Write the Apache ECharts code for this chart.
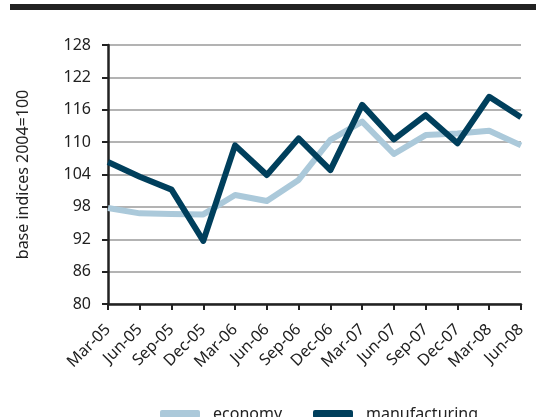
<!DOCTYPE html>
<html>
<head>
<meta charset="utf-8">
<script src="https://cdn.jsdelivr.net/npm/echarts@6/dist/echarts.min.js"></script>
<style>
  html, body { margin: 0; padding: 0; background: #fff; }
  #chart { width: 536px; height: 417px; }
</style>
</head>
<body>
<div id="chart"></div>
<script>
const quarters = ['Mar-05', 'Jun-05', 'Sep-05', 'Dec-05', 'Mar-06', 'Jun-06', 'Sep-06', 'Dec-06',
  'Mar-07', 'Jun-07', 'Sep-07', 'Dec-07', 'Mar-08', 'Jun-08']
const economy = [97.8, 96.8, 96.7, 96.6, 100.2, 99.1, 103.0, 110.4, 113.8, 107.8, 111.3, 111.6, 112.1, 109.4]
const manufacturing = [106.3, 103.6, 101.2, 91.7, 109.4, 103.9, 110.7, 104.8, 116.9, 110.5, 115.0, 109.8, 118.4, 114.6]
const yTicks = [80, 86, 92, 98, 104, 110, 116, 122, 128]

const font = 'Noto Sans, sans-serif'
const chart = echarts.init(document.getElementById('chart'))

const legendText = { fontFamily: font, fontSize: 16, color: '#222', padding: [0, 0, 0, 8] }

chart.setOption({
  backgroundColor: '#fff',
  animation: false,
  graphic: [
    { type: 'rect', shape: { x: 10, y: 4, width: 526, height: 6 }, style: { fill: '#222' } }
  ],
  grid: { left: 108, right: 15, top: 45, bottom: 113 },
  // two legends so each entry sits where the original has it
  legend: [
    {
      top: 401, left: 155, itemWidth: 40, itemHeight: 8, icon: 'roundRect',
      textStyle: legendText, data: ['economy']
    },
    {
      top: 401, left: 308, itemWidth: 40, itemHeight: 8, icon: 'roundRect',
      textStyle: legendText, data: ['manufacturing']
    }
  ],
  xAxis: {
    type: 'category',
    data: quarters,
    boundaryGap: false,
    axisLine: { lineStyle: { color: '#222', width: 2.5 } },
    axisTick: { show: true, length: 6, inside: false, lineStyle: { color: '#222', width: 2 } },
    axisLabel: { rotate: 45, interval: 0, margin: 23, fontFamily: font, fontSize: 16, color: '#222' },
    splitLine: { show: false }
  },
  yAxis: {
    type: 'value',
    min: yTicks[0],
    max: yTicks[yTicks.length - 1],
    interval: 6,
    name: 'base indices 2004=100',
    nameLocation: 'middle',
    nameRotate: 90,
    nameGap: 77,
    nameTextStyle: { fontFamily: font, fontSize: 16, color: '#222' },
    axisLine: { show: true, lineStyle: { color: '#222', width: 2.5 } },
    axisTick: { show: true, length: 6, lineStyle: { color: '#222', width: 2 } },
    axisLabel: { margin: 17, fontFamily: font, fontSize: 16, color: '#222' },
    splitLine: { lineStyle: { color: '#9a9a9a', width: 1.5 } }
  },
  series: [
    {
      name: 'economy',
      type: 'line',
      data: economy,
      showSymbol: false,
      symbol: 'none',
      lineStyle: { color: '#abc9da', width: 6, join: 'round' },
      itemStyle: { color: '#abc9da' }
    },
    {
      name: 'manufacturing',
      type: 'line',
      data: manufacturing,
      showSymbol: false,
      symbol: 'none',
      lineStyle: { color: '#003f5c', width: 6, join: 'round' },
      itemStyle: { color: '#003f5c' }
    }
  ]
})
</script>
</body>
</html>
